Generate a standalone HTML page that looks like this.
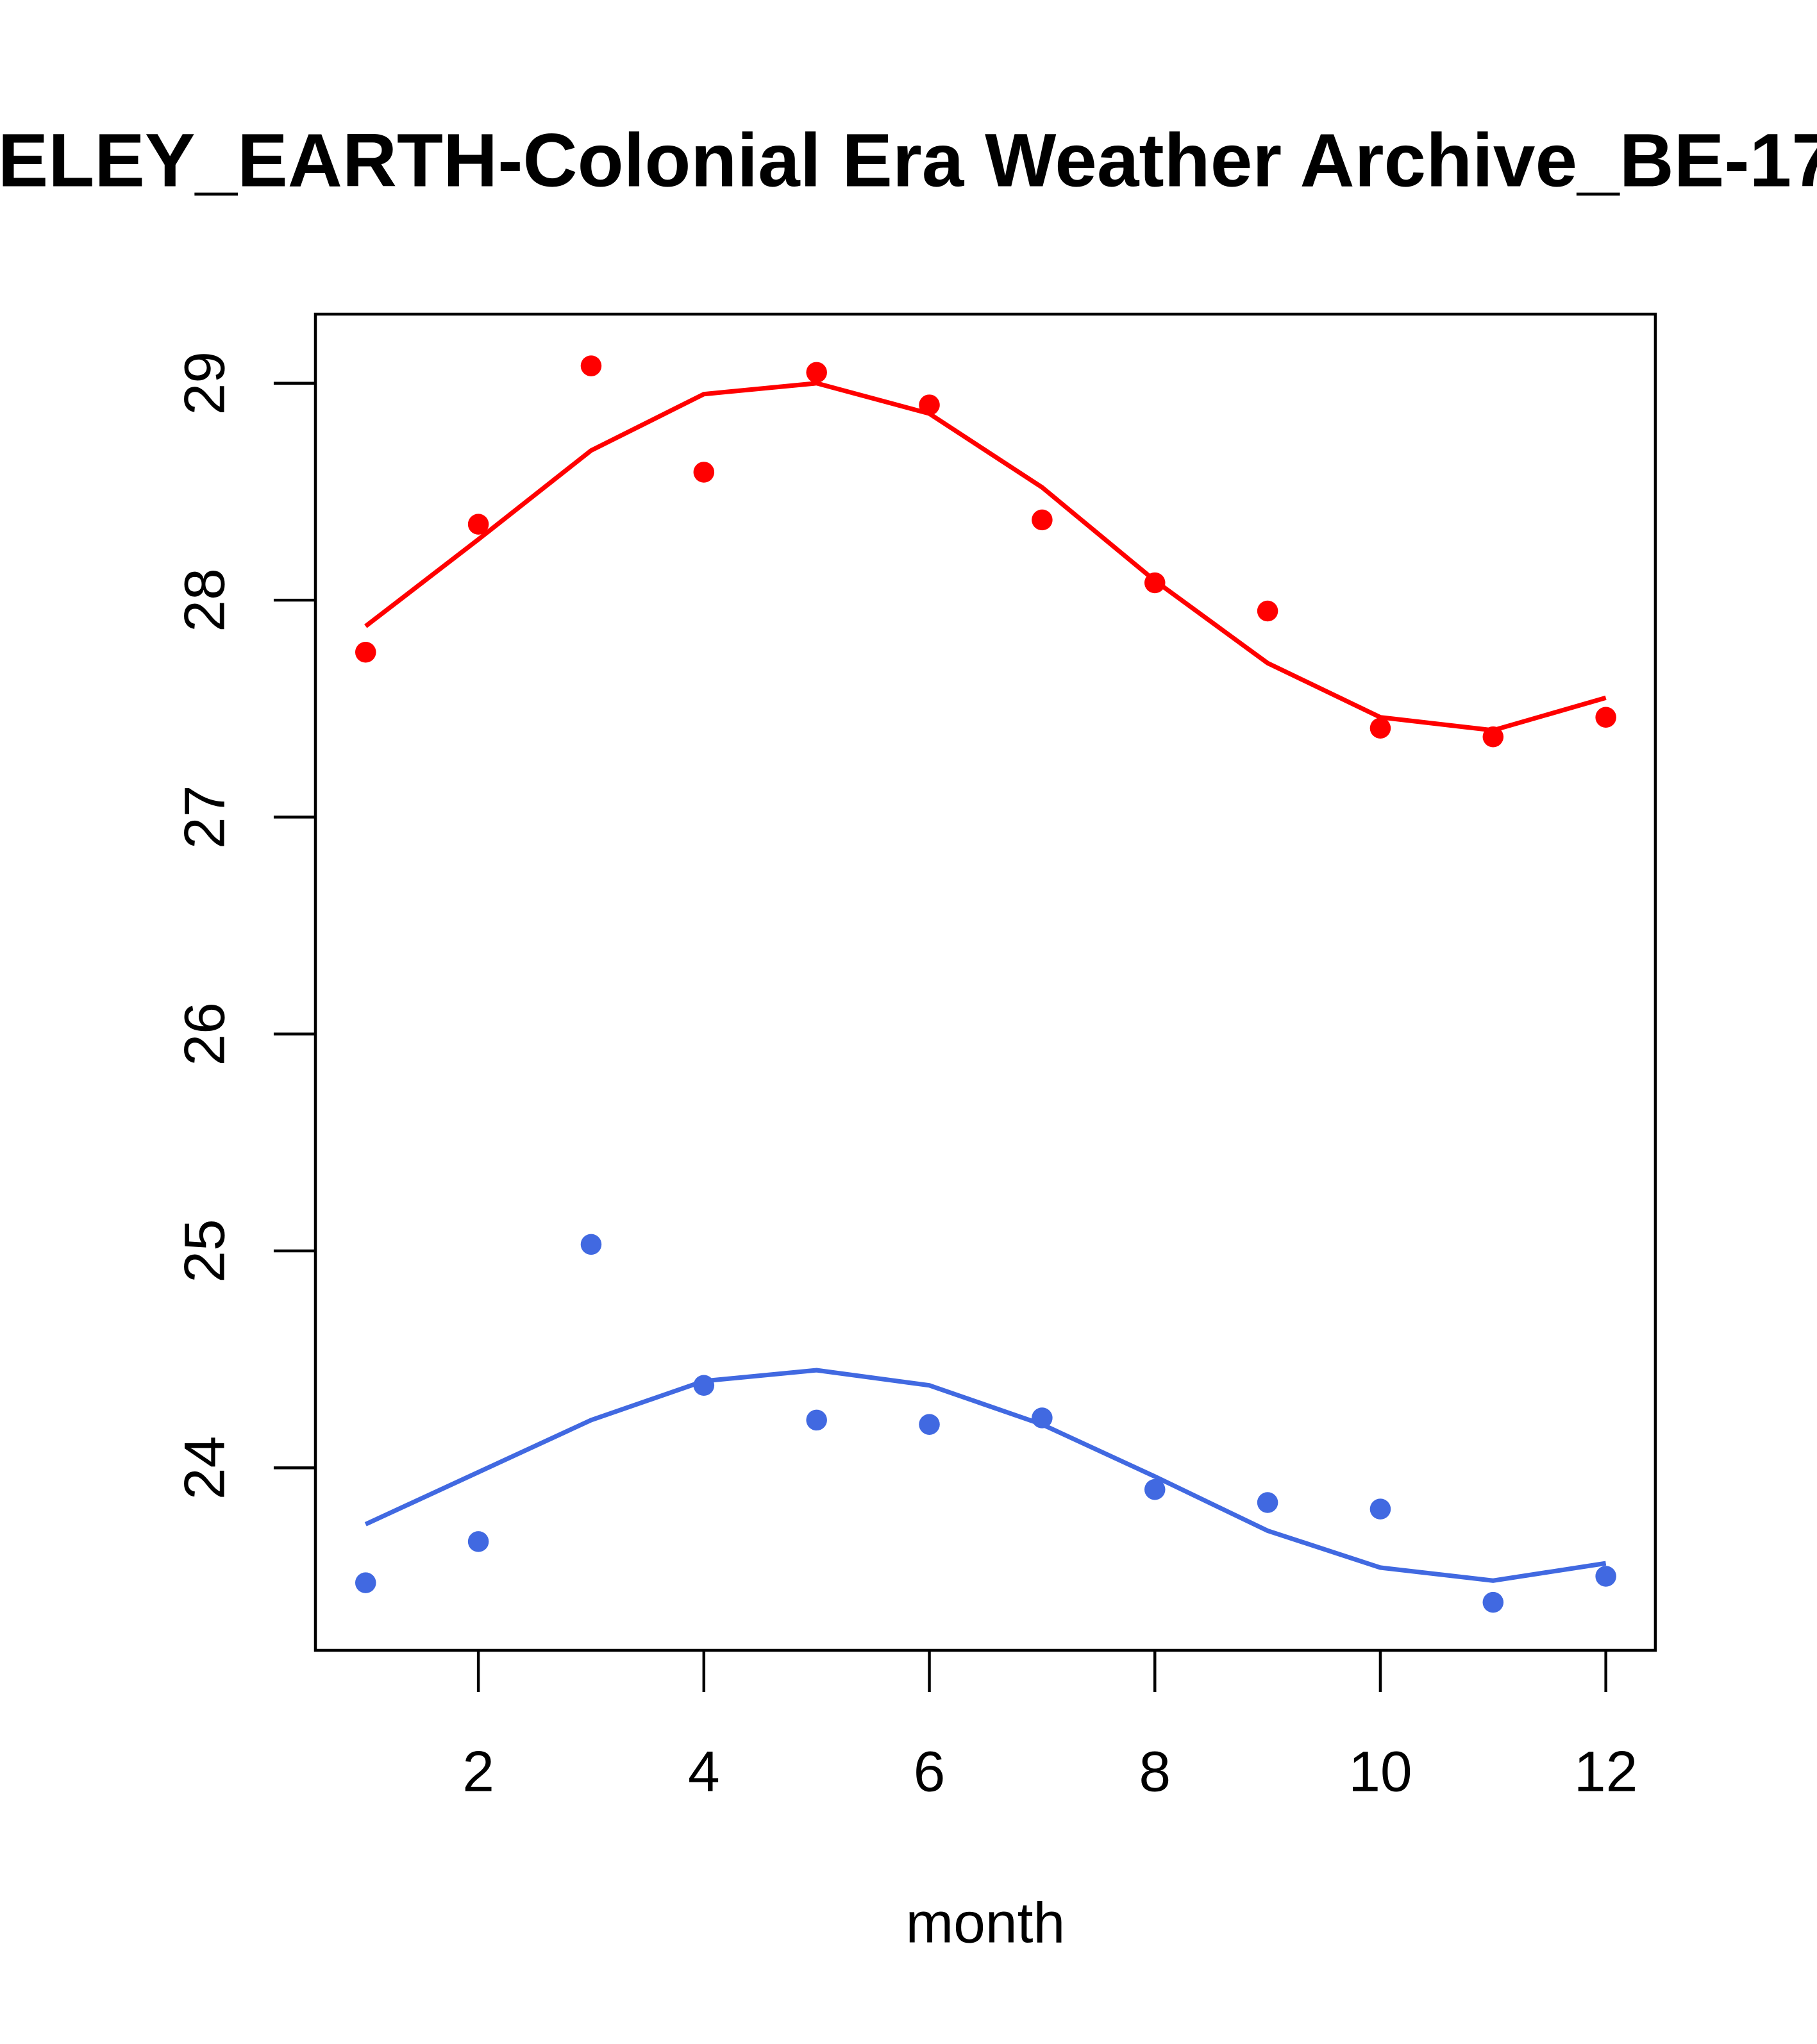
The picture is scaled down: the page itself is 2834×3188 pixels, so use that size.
<!DOCTYPE html>
<html><head><meta charset="utf-8"><style>html,body{margin:0;padding:0;background:#fff}svg{display:block}</style></head>
<body>
<svg xmlns="http://www.w3.org/2000/svg" width="2834" height="3188" viewBox="0 0 1394 1568" preserveAspectRatio="none" font-family="'Liberation Sans', Arial, sans-serif">
<rect width="1394" height="1568" fill="#fff"/>
<text x="-166" y="143" text-anchor="start" font-size="58" font-weight="bold">BERKELEY_EARTH-Colonial Era Weather Archive_BE-1700</text>
<rect x="242" y="241" width="1028" height="1025" fill="none" stroke="#000" stroke-width="2.2"/>
<g id="axes"></g>
<g id="marks"></g>
<text x="756" y="1490" text-anchor="middle" font-size="44">month</text>
<script>
const months=[1,2,3,4,5,6,7,8,9,10,11,12];
const redPoints=[27.76,28.35,29.08,28.59,29.05,28.90,28.37,28.08,27.95,27.41,27.37,27.46];
const redLine=[27.88,28.28,28.69,28.95,29.0,28.86,28.52,28.09,27.71,27.46,27.40,27.55];
const bluePoints=[23.47,23.66,25.03,24.38,24.22,24.20,24.23,23.90,23.84,23.81,23.38,23.50];
const blueLine=[23.74,23.98,24.22,24.40,24.45,24.38,24.20,23.96,23.71,23.54,23.48,23.56];
const xTicks=[2,4,6,8,10,12];
const yTicks=[24,25,26,27,28,29];
const NS="http://www.w3.org/2000/svg";
function X(m){return 280.5+(m-1)*86.5;}
function Y(v){return 294+(29-v)*166.4;}
const axes=document.getElementById('axes'),marks=document.getElementById('marks');
function mk(tag,attrs,parent){const e=document.createElementNS(NS,tag);for(const k in attrs)e.setAttribute(k,attrs[k]);parent.appendChild(e);return e;}
xTicks.forEach(t=>{
  const l=mk('line',{x1:X(t),x2:X(t),y1:1266,y2:1298,stroke:'#000','stroke-width':2.2},axes);
  
  
  const tx=mk('text',{x:X(t),y:1374,'text-anchor':'middle','font-size':44},axes);tx.textContent=t;
  
  
});
yTicks.forEach(t=>{
  const l=mk('line',{x1:210,x2:242,y1:Y(t),y2:Y(t),stroke:'#000','stroke-width':2.2},axes);
  
  
  const tx=mk('text',{x:0,y:0,'text-anchor':'middle','font-size':44,transform:`translate(172,${Y(t)}) rotate(-90)`},axes);tx.textContent=t;
  
  
});
function series(pts,line,color,name){
  const p=mk('polyline',{points:months.map((m,i)=>X(m)+','+Y(line[i])).join(' '),fill:'none',stroke:color,'stroke-width':3.5},marks);
  
  
  months.forEach((m,i)=>{
    const c=mk('circle',{cx:X(m),cy:Y(pts[i]),r:8,fill:color},marks);
    
    
  });
}
series(redPoints,redLine,'#ff0000','max-temp');
series(bluePoints,blueLine,'#4169e1','min-temp');
</script>
</svg>
</body></html>
